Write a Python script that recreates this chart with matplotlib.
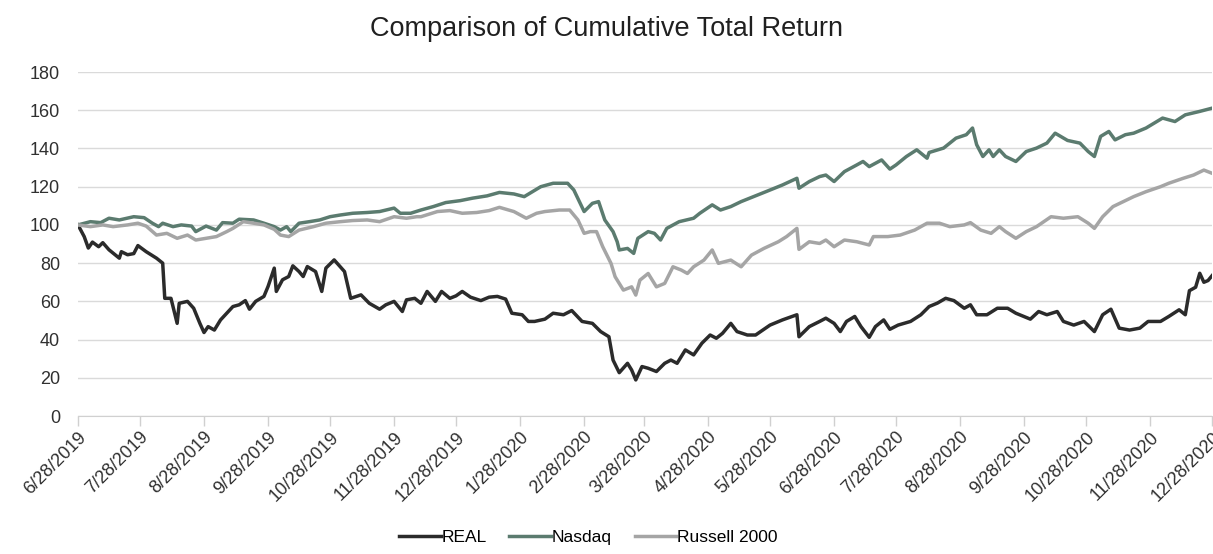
import matplotlib
matplotlib.use("Agg")
import matplotlib.pyplot as plt
import numpy as np
import pandas as pd

START = pd.Timestamp("2019-06-28")

# values; x = days since 6/28/2019
real_day = [0, 3, 5, 7, 10, 12, 15, 20, 21, 24, 27, 29, 33, 38, 41, 42, 45, 48, 49, 53,
            56, 59, 61, 63, 66, 69, 72, 75, 78, 81, 83, 86, 90, 92, 95, 96, 99, 102, 104, 107,
            109, 111, 115, 118, 120, 124, 129, 132, 137, 141, 146, 149, 153, 157, 159, 163, 166, 169, 173, 176,
            180, 183, 186, 190, 195, 199, 203, 207, 210, 215, 218, 221, 226, 230, 235, 239, 244, 249, 253, 257,
            259, 262, 266, 268, 270, 273, 276, 280, 284, 287, 290, 294, 298, 302, 306, 309, 312, 316, 319, 324,
            328, 335, 341, 348, 349, 354, 359, 362, 366, 369, 372, 376, 379, 383, 386, 390, 393, 397, 403, 408,
            412, 416, 420, 424, 429, 432, 435, 440, 445, 450, 454, 461, 465, 469, 474, 477, 482, 487, 492, 496,
            500, 504, 509, 514, 518, 524, 528, 533, 536, 538, 541, 543, 545, 547, 549]
real_val = [100, 93.9, 87.9, 91, 88.6, 90.7, 87, 82.6, 86, 84.4, 85, 89.2, 86, 82.6, 80, 61.6, 61.6, 48.5, 59, 60,
            56.4, 48.5, 43.7, 46.8, 45, 50.3, 53.8, 57.3, 58.2, 60.4, 55.9, 60, 62.6, 67.8, 77.4, 65.2, 71.3, 73, 78.6, 75.6,
            73, 78.2, 75.6, 65.2, 77.4, 81.7, 75.6, 61.6, 63.4, 59, 55.9, 58.2, 60, 54.7, 60.8, 61.6, 59, 65.2, 60, 65.2,
            61.6, 62.9, 65.2, 62.2, 60.4, 62.2, 62.6, 61.2, 53.8, 53, 49.5, 49.5, 50.7, 53.8, 53, 55.2, 49.5, 48.5, 44.2, 41.5,
            29.3, 22.7, 27.6, 24.1, 18.9, 25.9, 25, 23.3, 27.6, 29.3, 27.6, 34.6, 32, 38.1, 42.4, 40.7, 43.3, 48.5, 44.2, 42.4,
            42.4, 47.6, 50.3, 53, 41.5, 46.8, 49.5, 51.2, 48.5, 44.2, 49.5, 52.1, 46.8, 41.2, 46.8, 50.3, 45.4, 47.6, 49.5, 53,
            57.3, 59.1, 61.6, 60.4, 56.4, 58.2, 53, 53, 56.4, 56.4, 53.8, 50.7, 54.7, 53, 54.7, 49.5, 47.6, 49.5, 44.2, 53,
            55.9, 46, 45, 46, 49.5, 49.5, 52.1, 55.6, 53, 65.6, 67.4, 74.7, 70, 70.9, 73.5]

nasdaq_day = [0, 6, 11, 15, 20, 27, 32, 36, 39, 41, 46, 50, 55, 57, 62, 67, 70, 75, 78, 85,
              90, 95, 98, 101, 103, 107, 112, 117, 122, 127, 133, 140, 146, 153, 156, 161, 166, 172, 178, 185,
              191, 198, 204, 211, 216, 220, 224, 230, 237, 240, 245, 249, 252, 255, 259, 261, 262, 266, 269, 271,
              276, 279, 282, 285, 291, 298, 301, 307, 311, 316, 321, 327, 333, 341, 348, 349, 354, 359, 362, 366,
              371, 377, 380, 383, 389, 393, 396, 401, 406, 411, 412, 419, 425, 430, 433, 435, 438, 441, 443, 446,
              449, 454, 459, 464, 469, 473, 479, 485, 489, 492, 495, 499, 502, 507, 511, 517, 525, 531, 536, 543,
              549]
nasdaq_val = [100, 101.7, 101.2, 103.5, 102.6, 104.3, 103.8, 100.9, 99.1, 100.9, 99.1, 100, 99.4, 96.5, 99.4, 97.3, 101.2, 100.9, 103, 102.6,
              100.9, 99.1, 97.3, 99.1, 96.5, 100.9, 101.7, 102.6, 104.3, 105.2, 106.1, 106.5, 107, 108.8, 106.1, 106.1, 107.8, 109.6, 111.7, 112.7,
              114, 115.2, 117, 116.2, 114.8, 117.4, 120, 121.8, 121.8, 118.3, 107, 111.3, 112.2, 102.6, 96.5, 91.2, 86.9, 87.7, 85.1, 93,
              96.5, 95.6, 92.1, 98.2, 101.7, 103.5, 106.1, 110.5, 107.8, 109.6, 112.2, 114.8, 117.4, 120.9, 124.4, 119.2, 122.7, 125.3, 126.1, 122.7,
              127.9, 131.4, 133.2, 130.5, 134, 129.2, 131.4, 135.8, 139.3, 134.9, 137.9, 140.2, 145.4, 147.2, 150.7, 142, 135.8, 139.3, 135.8, 139.3,
              135.8, 133.2, 138.4, 140.2, 142.8, 148, 144.2, 142.8, 138.4, 135.8, 146.3, 148.9, 144.5, 147.2, 148, 150.7, 155.9, 154.1, 157.6, 159.4,
              161.1]

russell_day = [0, 6, 12, 17, 24, 29, 33, 38, 43, 48, 53, 57, 62, 67, 72, 75, 80, 85, 90, 95,
               98, 102, 107, 114, 120, 127, 133, 140, 146, 153, 159, 164, 166, 174, 180, 186, 193, 199, 204, 211,
               217, 222, 226, 233, 238, 242, 245, 248, 251, 254, 258, 260, 264, 268, 270, 272, 276, 280, 284, 288,
               292, 295, 298, 303, 307, 310, 316, 321, 326, 332, 339, 343, 348, 349, 354, 359, 362, 366, 371, 377,
               383, 385, 392, 398, 405, 411, 417, 422, 429, 432, 437, 442, 446, 449, 454, 459, 464, 471, 477, 484,
               489, 492, 496, 501, 506, 511, 517, 524, 528, 535, 540, 545, 549]
russell_val = [100, 99.1, 100, 99.1, 100, 100.9, 99.4, 94.7, 95.6, 93, 94.7, 92.1, 93, 93.9, 96.5, 98.2, 101.7, 100.9, 100, 97.7,
               94.7, 93.9, 97.3, 99.1, 100.9, 101.7, 102.3, 102.6, 101.7, 104.3, 103.5, 104.3, 104.3, 107, 107.5, 106.1, 106.5, 107.5, 109.2, 107,
               103.5, 106.1, 107, 107.8, 107.8, 102.6, 95.6, 96.5, 96.5, 88.6, 79.9, 72.9, 65.9, 67.6, 63.3, 71.1, 74.6, 67.6, 69.4, 78.1,
               76.4, 74.6, 78.1, 81.6, 86.9, 79.9, 81.6, 78.1, 84.2, 87.7, 91.2, 93.9, 98.2, 87.2, 91.2, 90.3, 92.1, 88.6, 92.1, 91.2,
               89.5, 93.9, 93.9, 94.7, 97.3, 100.9, 100.9, 99.1, 100, 101.2, 97.3, 95.6, 99.1, 96.5, 93, 96.5, 99.1, 104.3, 103.5, 104.3,
               100.9, 98.2, 104.3, 109.6, 112.2, 114.8, 117.4, 120, 121.8, 124.4, 126.1, 128.7, 127]

series = [
    ("REAL", real_day, real_val, "#2b2b2b"),
    ("Nasdaq", nasdaq_day, nasdaq_val, "#5b7b6f"),
    ("Russell 2000", russell_day, russell_val, "#a5a5a5"),
]

plt.rcParams["font.family"] = ["Liberation Sans", "DejaVu Sans"]

fig = plt.figure(figsize=(12.13, 5.54), dpi=100)
ax = fig.add_axes([0.0643, 0.249, 0.935, 0.621])

for name, days, vals, color in series:
    x = START + pd.to_timedelta(days, unit="D")
    ax.plot(x, vals, color=color, linewidth=2.5, label=name)

ticks = pd.date_range("2019-06-28", "2020-12-28", freq=pd.DateOffset(months=1))
ax.set_xticks(ticks)
ax.set_xticklabels([f"{d.month}/{d.day}/{d.year}" for d in ticks],
                   rotation=45, ha="right", rotation_mode="anchor", fontsize=13, color="#303030")
ax.set_xlim(START, pd.Timestamp("2020-12-28"))

ax.set_ylim(0, 180)
ax.set_yticks(np.arange(0, 181, 20))
ax.tick_params(axis="y", length=0, labelsize=13, labelcolor="#303030", pad=13)
ax.tick_params(axis="x", length=7, color="#d0d0d0", width=1, pad=2)
ax.grid(axis="y", color="#dadada", linewidth=1)
ax.set_axisbelow(True)
for side in ["top", "right", "left"]:
    ax.spines[side].set_visible(False)
ax.spines["bottom"].set_color("#d0d0d0")

fig.text(0.5, 0.947, "Comparison of Cumulative Total Return", ha="center", va="center",
         fontsize=19.5, color="#202020")

fig.legend(loc="lower center", bbox_to_anchor=(0.485, -0.012), ncol=3, frameon=False,
           fontsize=12.5, handlelength=2.4, handletextpad=0.05, columnspacing=1.3)

fig.savefig("out.png", dpi=100)
